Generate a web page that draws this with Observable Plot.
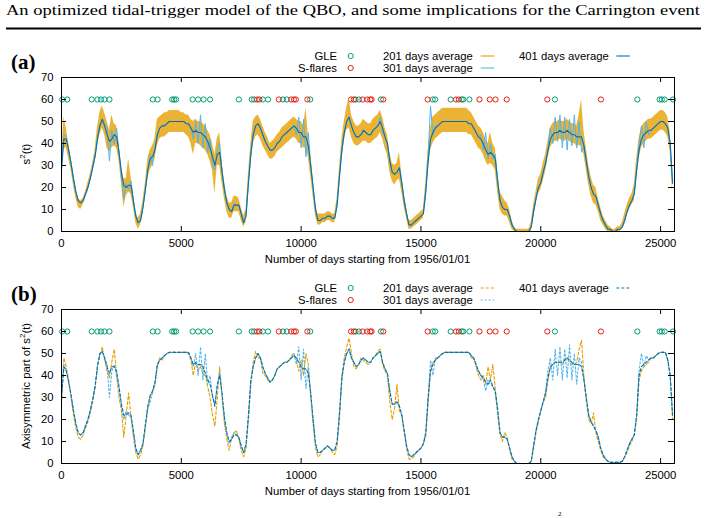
<!DOCTYPE html>
<html><head><meta charset="utf-8">
<script src="https://cdn.jsdelivr.net/npm/d3@7"></script>
<script src="https://cdn.jsdelivr.net/npm/@observablehq/plot@0.6"></script>
<style>
body{margin:0;background:#fff;}
#root{position:relative;width:705px;height:518px;overflow:hidden;background:#fff;}
#root > svg{position:absolute;left:0;}
</style></head><body><div id="root"></div>
<script>
// ---------- data ----------
const STEP = 100; // days between samples
const xTicks = [0, 5000, 10000, 15000, 20000, 25000];
const yTicks = [0, 10, 20, 30, 40, 50, 60, 70];
const EVENT_LEVEL = 60;
const gleDays = [30,240,1260,1500,1650,1790,2000,3810,4010,4620,4700,4780,5470,5700,5930,6200,7400,7940,8040,8400,8620,9240,9400,10380,12270,12410,13330,15490,15590,16240,16700,16760,17020,20590,24030,24960,25050,25170,25520];
const flareDays = [8160,8260,9070,9580,9700,9780,10260,12080,12200,12560,12760,12880,12940,13430,15280,16460,16580,17440,17870,18110,18580,20270,22510];

// panel (a): s^2(t)
const a401 = [28,42,42,37,31,24,18,14,13,14,
17,20,24,29,34,42,48,51,48,44,
41,42,44,43,36,27,21,20,21,21,
14,7,4,5,11,19,28,33,34,37,
44,47,48,48,49,50,50,50,50,50,
50,50,49,49,47,45,46,45,45,44,
43,41,38,34,30,35,36,27,19,13,
10,9,12,12,12,8,4,7,22,35,
44,48,49,47,44,41,39,37,37,38,
40,41,43,44,45,46,47,48,47,45,
45,43,43,39,30,20,10,5,5,6,
6,7,7,6,6,12,25,37,45,50,
52,48,45,43,43,44,46,45,44,44,
46,47,48,50,47,43,40,32,27,26,
27,29,22,14,8,3,3,4,5,6,
7,8,18,32,42,45,47,48,49,50,
50,50,50,50,50,50,50,50,50,50,
49,49,47,45,43,42,40,37,35,36,
35,33,23,14,11,10,10,7,3,1,
0,0,0,0,0,0,2,9,15,20,
22,27,31,37,42,44,45,45,46,45,
45,46,45,44,44,43,43,43,39,32,
25,20,17,16,12,8,5,3,1,1,
0,0,1,1,2,5,9,12,14,17,
28,37,42,44,45,46,46,47,48,49,
50,50,49,47,40,22];
const a301 = [30,44,43,37,31,24,18,14,13,14,
17,20,24,29,34,42,48,51,49,48,
32,46,40,47,36,25,15,22,19,23,
14,7,4,5,11,19,27,35,30,38,
44,47,48,48,49,50,50,50,50,50,
50,50,49,49,47,42,50,40,53,38,
49,36,42,30,28,37,40,27,19,13,
10,9,13,12,12,8,4,7,22,35,
44,48,49,47,44,41,39,37,37,38,
40,41,43,44,45,46,47,48,44,52,
38,51,34,45,30,20,10,5,5,6,
6,7,7,6,6,12,25,37,45,50,
52,48,45,43,43,44,46,45,44,44,
46,47,48,52,45,43,40,32,27,26,
27,29,22,14,8,3,3,4,5,6,
7,8,18,35,57,44,48,48,49,50,
50,50,50,50,50,50,50,50,50,50,
49,49,47,45,43,44,37,45,33,40,
33,35,23,14,11,10,10,7,3,1,
0,0,0,0,0,0,2,9,15,20,
22,27,31,38,47,40,52,41,53,38,
52,37,51,39,53,38,50,36,39,32,
25,20,17,16,12,8,5,3,1,1,
0,0,1,1,2,5,9,12,14,17,
28,40,48,38,50,44,46,47,48,49,
50,50,49,47,40,22];
const a201lo = [26,38,38,33,28,21,15,11,10,12,
15,18,22,27,32,39,44,47,44,38,
36,38,39,38,32,22,11,16,18,17,
11,4,1,3,8,16,24,28,30,33,
39,42,43,43,44,45,45,45,45,45,
45,45,44,43,40,35,40,40,39,38,
37,35,32,28,17,30,30,22,15,9,
6,6,9,9,9,5,2,4,18,30,
40,43,44,42,39,37,35,33,33,34,
36,37,38,39,40,41,42,43,42,40,
40,38,38,34,25,16,7,3,3,4,
4,5,5,4,4,9,21,33,41,46,
47,43,40,39,39,40,41,41,40,40,
41,42,43,45,42,38,35,27,23,21,
23,24,18,11,6,1,1,2,3,4,
5,6,14,27,37,40,42,43,44,45,
45,45,45,45,45,45,45,45,45,45,
44,44,42,40,38,37,35,32,30,31,
30,28,18,10,8,7,7,4,1,0,
0,0,0,0,0,0,0,6,12,17,
19,23,27,33,38,40,41,41,42,41,
41,42,41,40,40,39,39,39,35,28,
21,16,13,12,9,5,3,1,0,0,
0,0,0,0,1,3,7,10,12,14,
24,33,38,40,41,42,42,43,44,45,
46,46,45,43,36,18];
const a201hi = [32,52,47,40,33,26,19,15,14,15,
18,22,26,31,37,47,54,57,54,50,
46,53,49,48,40,30,24,24,33,25,
17,9,6,8,14,22,33,37,39,42,
51,52,53,54,54,55,55,55,55,55,
54,54,53,53,51,50,51,50,50,49,
48,46,44,40,35,42,45,32,23,16,
13,13,16,16,15,11,7,10,26,40,
50,52,53,51,48,45,43,40,41,42,
44,45,47,48,49,50,51,52,51,50,
50,48,56,44,35,24,13,8,8,8,
8,9,9,8,8,15,29,42,50,56,
61,53,50,48,48,49,51,50,49,49,
51,52,53,55,52,47,44,36,31,30,
31,36,26,17,11,5,5,6,7,8,
9,10,22,37,47,52,53,54,55,56,
56,56,56,56,56,56,56,56,56,56,
55,54,52,50,48,47,45,42,40,45,
40,38,28,18,16,14,13,10,5,2,
1,1,1,1,1,1,4,12,18,24,
26,31,35,41,47,49,50,50,51,50,
50,51,50,49,49,48,53,60,46,38,
30,25,21,20,15,11,7,5,3,2,
1,1,2,2,4,8,12,15,17,21,
33,42,47,49,50,51,51,52,53,54,
55,55,54,52,45,27];

// panel (b): axisymmetric part of s^2(t)
const b401 = [30,44,42,37,31,24,18,14,13,14,
17,20,24,29,35,44,50,51,48,44,
41,44,44,42,35,27,22,22,23,22,
15,7,4,6,9,18,26,31,33,37,
45,47,48,49,50,50.5,50.5,50.5,50.5,50.5,
50.5,50.5,50.5,50.5,48,45,46,45,45,44,
41,38,36,31,26,36,40,32,21,14,
10,11,13,13,12,8,5,9,22,38,
44,48,50,48,44,41,39,37,38,40,
43,44,45,46,46,47,48,49,48,46,
44,43,43,41,32,20,9,5,5,6,
7,8,7,6,6,10,23,39,46,50,
52,48,46,44,45,47,48,47,46,46,
48,49,50,51,46,43,41,33,27,27,
28,26,22,15,8,4,3,4,5,6,
7,9,14,30,42,45,47,48,49,50,
50.5,50.5,50.5,50.5,50.5,50.5,50.5,50.5,50.5,50.5,
50.5,49,48,45,42,40,39,37,36,38,
35,33,25,14,12,12,11,7,3,1,
0,0,0,0,0,0,1,8,15,20,
24,28,32,39,44,45,46,46,46,46,
47,48,47,46,45,45,45,44,38,30,
22,19,17,15,12,7,4,2,1,0.5,
0.5,0.5,0.5,0.5,1,3,6,9,11,13,
22,40,44,45,46,47,48,48,49,50,
50.5,50.5,50.5,47,40,22];
const b201 = [28,48,44,38,30,22,16,12,11,13,
16,19,23,28,34,44,49,53,47,42,
39,46,52,40,30,24,12,22,32,21,
12,5,2,4,8,16,25,30,32,36,
44,48,47,49,50,50.5,50.5,50.5,50.5,50.5,
50.5,50.5,50.5,50,47,40,46,42,44,41,
40,35,30,22,17,30,44,30,18,11,
6,12,14,15,11,6,3,7,20,36,
46,51,48,48,41,40,38,37,38,40,
43,44,45,46,46,47,49,50,47,42,
47,40,50,45,30,18,7,3,4,6,
7,8,7,5,4,8,20,40,48,53,
57,50,44,43,45,48,47,46,45,46,
48,49,51,52,45,42,40,28,20,25,
36,24,22,14,7,2,2,3,5,6,
7,9,12,28,43,46,47,48,49,50,
50.5,50.5,50.5,50.5,50.5,50.5,50.5,50.5,50.5,50.5,
50.5,48,48,44,40,38,40,36,44,38,
45,34,22,13,10,14,12,6,2,1,
0,0,0,0,0,0,1,7,14,19,
24,28,30,38,44,45,46,46,46,45,
47,48,46,45,45,46,52,56,40,28,
20,18,23,14,10,6,3,2,1,0.5,
0.5,0.5,0.5,0.5,1,3,5,8,10,13,
20,38,42,44,45,46,48,48,49,50,
50.5,50.5,50.5,47,40,20];
const b301 = [30,45,42,37,31,24,18,14,13,14,
17,20,24,29,35,44,50,51,48,45,
30,42,45,40,34,26,20,24,22,21,
14,6,4,6,9,17,25,28,33,36,
45,47,48,49,50,50.5,50.5,50.5,50.5,50.5,
50.5,50.5,50.5,50.5,48,44,50,40,53,38,
50,36,40,30,27,35,42,31,20,13,
9,11,14,13,12,8,5,8,20,37,
44,48,50,48,44,41,39,37,38,40,
43,44,45,46,46,47,48,50,45,53,
38,52,34,44,32,20,9,5,5,6,
7,8,7,6,6,10,23,38,46,50,
52,48,46,44,45,47,48,47,46,46,
48,49,50,51,46,43,41,33,27,27,
28,26,22,15,8,4,3,4,5,6,
7,9,14,30,47,40,48,48,49,50,
50.5,50.5,50.5,50.5,50.5,50.5,50.5,50.5,50.5,50.5,
50.5,49,48,45,42,40,38,33,38,36,
35,32,24,14,12,12,11,7,3,1,
0,0,0,0,0,0,1,8,15,20,
24,28,33,42,48,38,52,40,53,38,
52,39,54,38,50,36,48,46,38,30,
22,19,17,15,12,7,4,2,1,0.5,
0.5,0.5,0.5,0.5,1,3,6,9,11,13,
22,42,50,44,49,47,48,48,49,50,
50.5,50.5,50.5,47,40,22];

const C = {gle:"#009e73", flare:"#e51e10", d201:"#e69f00", d301:"#56b4e9", d401:"#0072b2"};
const seriesNames = ["201 days average","301 days average","401 days average"];

// ---------- layout ----------
const W = 705, PH = 230;
const M = {top:37, right:31, bottom:39, left:61};
const innerH = PH - M.top - M.bottom, innerW = W - M.left - M.right;
const FONT = "'Liberation Sans', Arial, Helvetica, sans-serif";
const FS = 11.3;

const rows = vals => vals.map((v, i) => ({day: i * STEP, v}));
const band = (lo, hi) => lo.map((v, i) => ({day: i * STEP, lo: v, hi: hi[i]}));

function frameMarks() {
  return [
    Plot.frame({stroke:"#000", strokeWidth:1}),
    Plot.tickX(xTicks, {x:d=>d, insetTop: innerH - 5, stroke:"#000"}),
    Plot.tickX(xTicks, {x:d=>d, insetBottom: innerH - 5, stroke:"#000"}),
    Plot.tickY(yTicks, {y:d=>d, insetRight: innerW - 5, stroke:"#000"}),
    Plot.tickY(yTicks, {y:d=>d, insetLeft: innerW - 6, stroke:"#000"}),
    Plot.axisX(xTicks, {tickSize:0, tickPadding:7, label:null, fontSize:FS, tickFormat: d => String(d)}),
    Plot.axisY(yTicks, {tickSize:0, tickPadding:8, label:null, fontSize:FS, tickFormat: d => String(d)})
  ];
}
function eventMarks() {
  return [
    Plot.dot(gleDays, {x:d=>d, y:()=>EVENT_LEVEL, r:2.6, stroke:C.gle, strokeWidth:1, fill:"none"}),
    Plot.dot(flareDays, {x:d=>d, y:()=>EVENT_LEVEL, r:2.6, stroke:C.flare, strokeWidth:1, fill:"none"})
  ];
}
function panel(marks) {
  return Plot.plot({
    width: W, height: PH,
    marginTop: M.top, marginRight: M.right, marginBottom: M.bottom, marginLeft: M.left,
    x: {domain: [0, 25580]},
    y: {domain: [0, 70]},
    style: {fontFamily: FONT, fontSize: FS + "px", color: "#000", background: "transparent", overflow: "visible"},
    marks: [...eventMarks(), ...marks, ...frameMarks()]
  });
}

const root = document.getElementById("root");

const pa = panel([
  Plot.areaY(band(a201lo, a201hi), {x:"day", y1:"lo", y2:"hi", fill:C.d201, fillOpacity:0.8}),
  Plot.line(rows(a301), {x:"day", y:"v", stroke:C.d301, strokeWidth:1}),
  Plot.line(rows(a401), {x:"day", y:"v", stroke:C.d401, strokeWidth:1.1})
]);
pa.style.top = "40px";
root.appendChild(pa);

const pb = panel([
  Plot.line(rows(b201), {x:"day", y:"v", stroke:C.d201, strokeWidth:1.1, strokeDasharray:"3,2"}),
  Plot.line(rows(b301), {x:"day", y:"v", stroke:C.d301, strokeWidth:1.1, strokeDasharray:"2,2"}),
  Plot.line(rows(b401), {x:"day", y:"v", stroke:C.d401, strokeWidth:1.1, strokeDasharray:"3,2"})
]);
pb.style.top = "272px";
root.appendChild(pb);

// ---------- overlay: title, panel tags, legends, axis titles ----------
const ov = d3.create("svg").attr("width", W).attr("height", 518)
  .style("position","absolute").style("top","0px").style("left","0px").style("pointer-events","none");
ov.append("text").attr("x", 6).attr("y", 15).attr("textLength", 694).attr("lengthAdjust","spacingAndGlyphs")
  .attr("font-family","'Liberation Serif','DejaVu Serif',serif").attr("font-size", 15.5)
  .text("An optimized tidal-trigger model of the QBO, and some implications for the Carrington event");
ov.append("rect").attr("x", 6).attr("y", 27.5).attr("width", 695).attr("height", 2).attr("fill","#000");

const panels = [
  {tag:"(a)", dy:0, ylab:["s","2","(t)"]},
  {tag:"(b)", dy:232, ylab:["Axisymmetric part of s","2","(t)"]}
];
panels.forEach((p, k) => {
  const g = ov.append("g").attr("font-family", FONT).attr("font-size", FS);
  ov.append("text").attr("x", 11).attr("y", 69 + p.dy)
    .attr("font-family","'Liberation Serif','DejaVu Serif',serif").attr("font-weight","bold").attr("font-size", 21)
    .text(p.tag);
  // event legend
  [["GLE", C.gle, 60], ["S-flares", C.flare, 72]].forEach(([lab, col, by]) => {
    g.append("text").attr("x", 337).attr("y", by + p.dy).attr("text-anchor","end").text(lab);
    g.append("circle").attr("cx", 350.7).attr("cy", by - 4 + p.dy).attr("r", 2.6)
      .attr("fill","none").attr("stroke", col).attr("stroke-width", 1);
  });
  // series legend
  const pos = [[383, 60, 480.7], [383, 72, 480.7], [519, 60, 616.3]];
  const dashes = k === 0 ? [null, null, null] : ["3,2", "2,2", "3,2"];
  seriesNames.forEach((name, j) => {
    const [tx, by, lx] = pos[j];
    g.append("text").attr("x", tx).attr("y", by + p.dy).text(name);
    g.append("line").attr("x1", lx).attr("x2", lx + 13.5).attr("y1", by - 4 + p.dy).attr("y2", by - 4 + p.dy)
      .attr("stroke", [C.d201, C.d301, C.d401][j]).attr("stroke-width", 1.1)
      .attr("stroke-dasharray", dashes[j]);
  });
  // x axis title
  g.append("text").attr("x", 367.5).attr("y", 263 + p.dy).attr("text-anchor","middle")
    .text("Number of days starting from 1956/01/01");
  // y axis title (rotated)
  const yt = g.append("text").attr("transform", `translate(30,${154 + p.dy}) rotate(-90)`).attr("text-anchor","middle");
  yt.append("tspan").text(p.ylab[0]);
  yt.append("tspan").attr("dy", -5).attr("font-size", 8).text(p.ylab[1]);
  yt.append("tspan").attr("dy", 5).text(p.ylab[2]);
});
// fragment of the following page text visible at the bottom edge
ov.append("text").attr("x", 558).attr("y", 516).attr("font-family","'Liberation Serif',serif").attr("font-size", 7).text("2");
root.appendChild(ov.node());
</script></body></html>
